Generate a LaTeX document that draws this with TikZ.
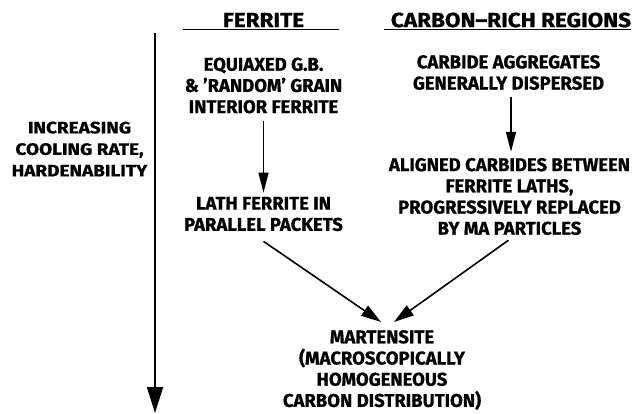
\documentclass[tikz,border=0pt]{standalone}
\usepackage{fontspec}
\setmainfont{Fira Sans}
\newfontfamily\bodyfont{Fira Sans}[BoldFeatures={FakeBold=0.8}]
\newfontfamily\ttlfont{Fira Sans}[FakeStretch=1.1, BoldFeatures={FakeBold=0.8}]
\newfontfamily\sidefont{Fira Sans}[FakeStretch=1.15, BoldFeatures={FakeBold=0.8}]
\usetikzlibrary{arrows.meta,calc}
\begin{document}
\begin{tikzpicture}[x=1pt,y=-1pt,
  txt/.style={font=\bodyfont\bfseries\fontsize{18.5}{21.2}\selectfont, align=center, inner sep=0pt},
  side/.style={font=\sidefont\bfseries\fontsize{16.5}{21.5}\selectfont, align=center, inner sep=0pt},
  ttl/.style={font=\ttlfont\bfseries\fontsize{20.5}{21}\selectfont, inner sep=0pt},
  uline/.style={line width=1pt},
  arr/.style={line width=1.6pt, -{Triangle[length=20pt,width=10pt]}},
  darr/.style={line width=1.6pt, -{Triangle[length=20pt,width=12pt]}},
  axis/.style={line width=2pt, -{Triangle[length=26pt,width=16pt]}},
]
\useasboundingbox (0,0) rectangle (636,414);
% titles
\node[ttl] (tf) at (263.5,20) {FERRITE};
\node[ttl] (tc) at (511,20) {CARBON–RICH REGIONS};
\coordinate (uf0) at (183,30); \coordinate (uf1) at (339,30);
\coordinate (uc0) at (384,30); \coordinate (uc1) at (631,30);
\draw[uline] (uf0) -- (uf1);
\draw[uline] (uc0) -- (uc1);
% axis
\coordinate (ax0) at (155,33); \coordinate (ax1) at (155,413);
\draw[axis] (ax0) -- (ax1);
\node[side] (cool) at (79.5,149) {INCREASING\\COOLING RATE,\\HARDENABILITY};
% ferrite column
\node[txt] (eq) at (263.5,85.5) {EQUIAXED G.B.\\\& ’RANDOM’ GRAIN\\INTERIOR FERRITE};
\node[txt] (lath) at (263.5,214) {LATH FERRITE IN\\PARALLEL PACKETS};
% carbon column
\node[txt] (cb) at (508.5,72.5) {CARBIDE AGGREGATES\\GENERALLY DISPERSED};
\node[txt] (al) at (509.5,196.5) {ALIGNED CARBIDES BETWEEN\\FERRITE LATHS,\\PROGRESSIVELY REPLACED\\BY MA PARTICLES};
% martensite
\node[txt] (mart) at (382,370) {MARTENSITE\\(MACROSCOPICALLY\\HOMOGENEOUS\\CARBON DISTRIBUTION)};
% arrows
\draw[arr] ($(eq.south)+(0,7)$) -- ($(lath.north)+(0,-4)$);
\draw[arr] ($(cb.south)+(2.5,7)$) -- ($(al.north)+(1.5,-6)$);
\draw[darr] ($(lath.south)+(0,10)$) -- ($(mart.north)+(-1,-8)$);
\draw[darr] ($(al.south)+(-1,5)$) -- ($(mart.north)+(12,-8)$);
\end{tikzpicture}
\end{document}
